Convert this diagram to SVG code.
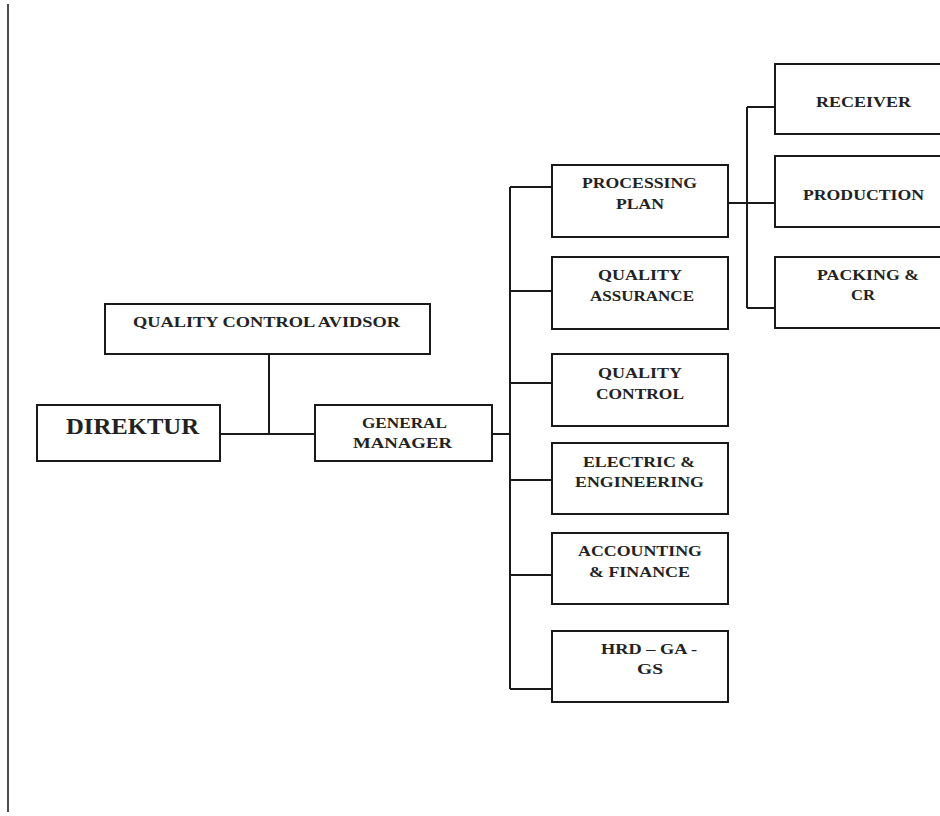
<svg xmlns="http://www.w3.org/2000/svg" width="940" height="816" viewBox="0 0 940 816">
<style>
.box{fill:#fff;stroke:#1a1a1a;stroke-width:2}
.ln{fill:none;stroke:#1a1a1a;stroke-width:2}
text{font-family:"Liberation Serif","Times New Roman",serif;font-weight:bold;font-size:15px;fill:#222}
.big{font-size:24px}
</style>
<rect width="940" height="816" fill="#fff"/>
<line x1="8" y1="4" x2="8" y2="812" stroke="#111" stroke-width="1.5"/>
<g id="connectors">
<path class="ln" d="M269,354 V434 M220,434 H315 M492,434 H510 M510,187 V689 M510,187 H552 M510,291 H552 M510,383 H552 M510,480 H552 M510,575 H552 M510,689 H552 M728,203 H775 M747,107 V308 M747,107 H775 M747,308 H775"/>
</g>
<g id="qca"><rect class="box" x="105" y="304" width="325" height="50"/><text x="133" y="327" textLength="267" lengthAdjust="spacingAndGlyphs">QUALITY CONTROL AVIDSOR</text></g>
<g id="direktur"><rect class="box" x="37" y="405" width="183" height="56"/><text class="big" x="66" y="434" textLength="133" lengthAdjust="spacingAndGlyphs">DIREKTUR</text></g>
<g id="gm"><rect class="box" x="315" y="405" width="177" height="56"/><text x="362" y="428" textLength="85" lengthAdjust="spacingAndGlyphs">GENERAL</text><text x="353" y="448" textLength="99" lengthAdjust="spacingAndGlyphs">MANAGER</text></g>
<g id="pp"><rect class="box" x="552" y="165" width="176" height="72"/><text x="582" y="188" textLength="115" lengthAdjust="spacingAndGlyphs">PROCESSING</text><text x="616" y="209" textLength="48" lengthAdjust="spacingAndGlyphs">PLAN</text></g>
<g id="qa"><rect class="box" x="552" y="257" width="176" height="72"/><text x="598" y="280" textLength="84" lengthAdjust="spacingAndGlyphs">QUALITY</text><text x="590" y="301" textLength="104" lengthAdjust="spacingAndGlyphs">ASSURANCE</text></g>
<g id="qc"><rect class="box" x="552" y="354" width="176" height="72"/><text x="598" y="378" textLength="84" lengthAdjust="spacingAndGlyphs">QUALITY</text><text x="596" y="399" textLength="88" lengthAdjust="spacingAndGlyphs">CONTROL</text></g>
<g id="ee"><rect class="box" x="552" y="443" width="176" height="71"/><text x="583" y="467" textLength="112" lengthAdjust="spacingAndGlyphs">ELECTRIC &amp;</text><text x="575" y="487" textLength="129" lengthAdjust="spacingAndGlyphs">ENGINEERING</text></g>
<g id="af"><rect class="box" x="552" y="533" width="176" height="71"/><text x="578" y="556" textLength="124" lengthAdjust="spacingAndGlyphs">ACCOUNTING</text><text x="589" y="577" textLength="101" lengthAdjust="spacingAndGlyphs">&amp; FINANCE</text></g>
<g id="hrd"><rect class="box" x="552" y="631" width="176" height="71"/><text x="601" y="654" textLength="96" lengthAdjust="spacingAndGlyphs">HRD – GA -</text><text x="637" y="674" textLength="26" lengthAdjust="spacingAndGlyphs">GS</text></g>
<g id="receiver"><rect class="box" x="775" y="64" width="175" height="70"/><text x="816" y="107" textLength="95" lengthAdjust="spacingAndGlyphs">RECEIVER</text></g>
<g id="production"><rect class="box" x="775" y="156" width="175" height="71"/><text x="803" y="200" textLength="121" lengthAdjust="spacingAndGlyphs">PRODUCTION</text></g>
<g id="packing"><rect class="box" x="775" y="257" width="175" height="71"/><text x="817" y="280" textLength="102" lengthAdjust="spacingAndGlyphs">PACKING &amp;</text><text x="851" y="300" textLength="24" lengthAdjust="spacingAndGlyphs">CR</text></g>
</svg>
